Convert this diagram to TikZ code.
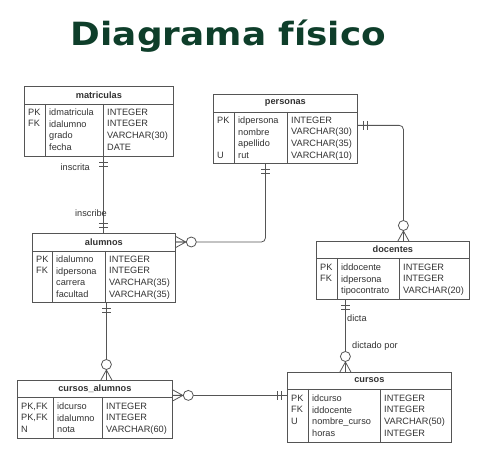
\documentclass[tikz,border=0pt]{standalone}
\usepackage{fontspec}
\setmainfont{Liberation Sans}
\newfontfamily\titulofont{DejaVu Sans}
\usetikzlibrary{calc}
\definecolor{TituloClr}{RGB}{14,62,42}
\definecolor{LineaClr}{RGB}{85,85,85}
\definecolor{TextoClr}{RGB}{50,50,50}

\begin{document}
\begin{tikzpicture}[x=1pt,y=-1pt,
  tabla/.style={draw=LineaClr,line width=.8pt,anchor=north west,inner sep=0pt},
  cabecera/.style={font=\fontsize{9.2}{11.6}\selectfont\bfseries,text=TextoClr,inner sep=0pt},
  columna/.style={font=\fontsize{9.2}{11.6}\selectfont,text=TextoClr,anchor=north west,inner sep=0pt,align=left},
  linea/.style={draw=LineaClr,line width=.8pt},
  rotulo/.style={font=\fontsize{9.2}{11}\selectfont,text=TextoClr,inner sep=0pt},
  uno/.pic={\draw[linea] (6,-4.5) -- (6,4.5) (10,-4.5) -- (10,4.5);},
  muchos/.pic={\draw[linea] (0,-5.5) -- (10,0) -- (0,5.5) (0,0) -- (10,0);
               \draw[linea,fill=white] (15.5,0) circle (5pt);}]

\useasboundingbox (0,0) rectangle (480,454);

\node[font=\titulofont\bfseries\fontsize{32}{38}\selectfont,text=TituloClr,inner sep=0pt] (titulo) at (228.5,36) {\scalebox{1.12}[1]{Diagrama físico}};

% matriculas
\node[tabla,minimum width=149pt,minimum height=70pt] (matriculas) at (24,86) {};
\node[cabecera] (matriculas-t) at ([yshift=-9pt]matriculas.north) {matriculas};
\draw[linea] (24,104) -- (173,104) (45,104) -- (45,156) (103,104) -- (103,156);
\node[columna] (matriculas-k) at (28,108.7) {PK\\FK};
\node[columna] (matriculas-c) at (49,108.7) {idmatricula\\idalumno\\grado\\fecha};
\node[columna] (matriculas-d) at (107,108.7) {INTEGER\\INTEGER\\VARCHAR(30)\\DATE};

% personas
\node[tabla,minimum width=144pt,minimum height=69pt] (personas) at (213,94) {};
\node[cabecera] (personas-t) at ([yshift=-9pt]personas.north) {personas};
\draw[linea] (213,112) -- (357,112) (234,112) -- (234,163) (287,112) -- (287,163);
\node[columna] (personas-k) at (217,116.7) {PK\\ \\ \\U};
\node[columna] (personas-c) at (238,116.7) {idpersona\\nombre\\apellido\\rut};
\node[columna] (personas-d) at (291,116.7) {INTEGER\\VARCHAR(30)\\VARCHAR(35)\\VARCHAR(10)};

% alumnos
\node[tabla,minimum width=143pt,minimum height=69pt] (alumnos) at (32,233) {};
\node[cabecera] (alumnos-t) at ([yshift=-9pt]alumnos.north) {alumnos};
\draw[linea] (32,251) -- (175,251) (52,251) -- (52,302) (105,251) -- (105,302);
\node[columna] (alumnos-k) at (36,255.7) {PK\\FK};
\node[columna] (alumnos-c) at (56,255.7) {idalumno\\idpersona\\carrera\\facultad};
\node[columna] (alumnos-d) at (109,255.7) {INTEGER\\INTEGER\\VARCHAR(35)\\VARCHAR(35)};

% docentes
\node[tabla,minimum width=153pt,minimum height=58pt] (docentes) at (316,241) {};
\node[cabecera] (docentes-t) at ([yshift=-8.5pt]docentes.north) {docentes};
\draw[linea] (316,258) -- (469,258) (337,258) -- (337,299) (399,258) -- (399,299);
\node[columna] (docentes-k) at (320,263.7) {PK\\FK};
\node[columna] (docentes-c) at (341,263.7) {iddocente\\idpersona\\tipocontrato};
\node[columna] (docentes-d) at (403,263.7) {INTEGER\\INTEGER\\VARCHAR(20)};

% cursos_alumnos
\node[tabla,minimum width=155pt,minimum height=58pt] (cursos-alumnos) at (17,380) {};
\node[cabecera] (cursos-alumnos-t) at ([yshift=-8.5pt]cursos-alumnos.north) {cursos\_alumnos};
\draw[linea] (17,397) -- (172,397) (53,397) -- (53,438) (102,397) -- (102,438);
\node[columna] (cursos-alumnos-k) at (21,402.7) {PK,FK\\PK,FK\\N};
\node[columna] (cursos-alumnos-c) at (57,402.7) {idcurso\\idalumno\\nota};
\node[columna] (cursos-alumnos-d) at (106,402.7) {INTEGER\\INTEGER\\VARCHAR(60)};

% cursos
\node[tabla,minimum width=164pt,minimum height=70pt] (cursos) at (287,372) {};
\node[cabecera] (cursos-t) at ([yshift=-8.5pt]cursos.north) {cursos};
\draw[linea] (287,389) -- (451,389) (308,389) -- (308,442) (380,389) -- (380,442);
\node[columna] (cursos-k) at (291,394.7) {PK\\FK\\U};
\node[columna] (cursos-c) at (312,394.7) {idcurso\\iddocente\\nombre\_curso\\horas};
\node[columna] (cursos-d) at (384,394.7) {INTEGER\\INTEGER\\VARCHAR(50)\\INTEGER};

% relaciones
\draw[linea] ([xshift=4.5pt]matriculas.south) -- ([xshift=4.5pt]matriculas.south |- alumnos.north);
\pic[rotate=-90] at ([xshift=4.5pt]matriculas.south) {uno};
\pic[rotate=90] at ([xshift=4.5pt]matriculas.south |- alumnos.north) {uno};
\node[rotulo,anchor=east] (inscrita) at (90,167) {inscrita};
\node[rotulo] (inscribe) at (91,213) {inscribe};

\draw[linea,rounded corners=4pt] ([xshift=-20pt]personas.south) |- (alumnos-t -| alumnos.east);
\pic[rotate=-90] at ([xshift=-20pt]personas.south) {uno};
\pic at (alumnos-t -| alumnos.east) {muchos};

\draw[linea,rounded corners=4pt] ([yshift=3.5pt]personas.east) -| ([xshift=10.5pt]docentes.north);
\pic at ([yshift=3.5pt]personas.east) {uno};
\pic[rotate=90] at ([xshift=10.5pt]docentes.north) {muchos};

\draw[linea] ([xshift=-47.5pt]docentes.south) -- ([xshift=-47.5pt]docentes.south |- cursos.north);
\pic[rotate=-90] at ([xshift=-47.5pt]docentes.south) {uno};
\pic[rotate=90] at ([xshift=-47.5pt]docentes.south |- cursos.north) {muchos};
\node[rotulo,anchor=west] (dicta) at (347,318) {dicta};
\node[rotulo,anchor=west] (dictado) at (352,346) {dictado por};

\draw[linea] ([xshift=2.5pt]alumnos.south) -- ([xshift=2.5pt]alumnos.south |- cursos-alumnos.north);
\pic[rotate=-90] at ([xshift=2.5pt]alumnos.south) {uno};
\pic[rotate=90] at ([xshift=2.5pt]alumnos.south |- cursos-alumnos.north) {muchos};

\draw[linea] ([yshift=14pt]cursos-alumnos.east) -- ([yshift=14pt]cursos-alumnos.east -| cursos.west);
\pic at ([yshift=14pt]cursos-alumnos.east) {muchos};
\pic[rotate=180] at ([yshift=14pt]cursos-alumnos.east -| cursos.west) {uno};

\end{tikzpicture}
\end{document}
